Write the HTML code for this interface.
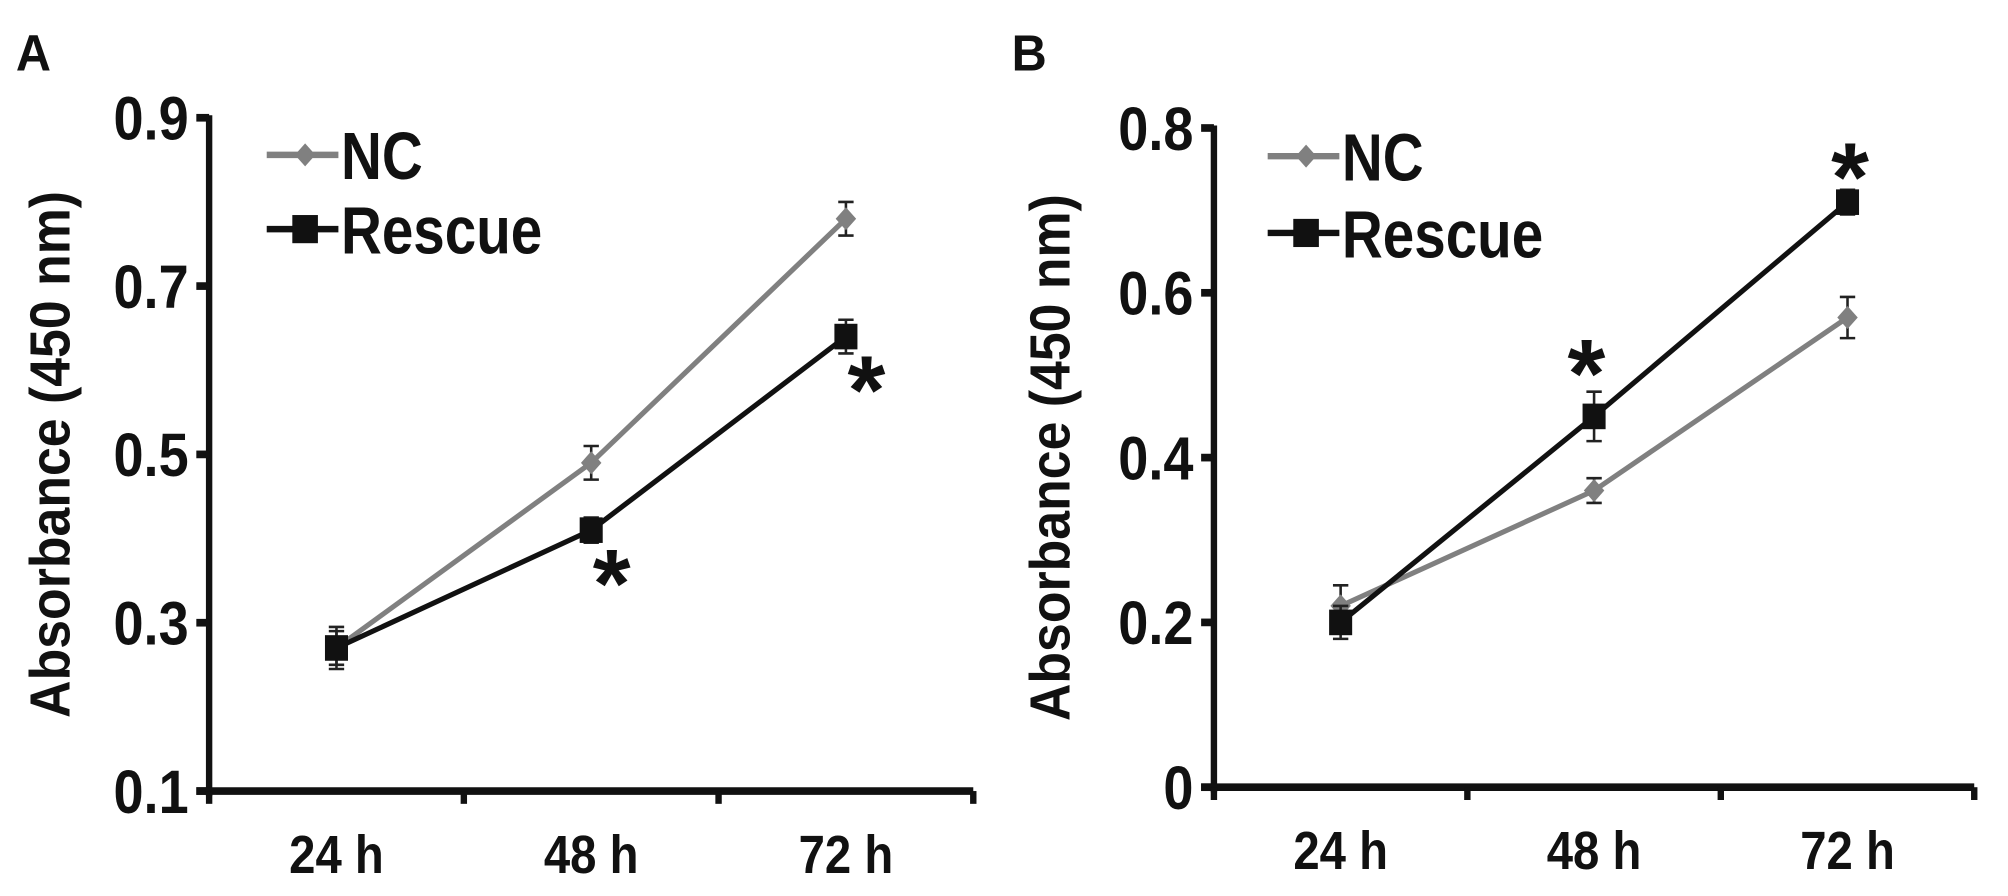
<!DOCTYPE html>
<html><head><meta charset="utf-8"><style>
html,body{margin:0;padding:0;background:#fff;}
svg{display:block;font-family:"Liberation Sans",Arial,sans-serif;font-weight:bold;}
</style></head><body>
<svg id="fig" width="2008" height="896" viewBox="0 0 1568 700" xmlns="http://www.w3.org/2000/svg"></svg>
<script>
const categories = ["24 h", "48 h", "72 h"];
const aTicks = [0.1, 0.3, 0.5, 0.7, 0.9];
const aNC = [0.27, 0.49, 0.78];
const aNCerr = [0.025, 0.02, 0.02];
const aRescue = [0.27, 0.41, 0.64];
const aRescueErr = [0.02, 0.015, 0.02];
const aStars = [false, true, true];
const bTicks = [0, 0.2, 0.4, 0.6, 0.8];
const bNC = [0.22, 0.36, 0.57];
const bNCerr = [0.025, 0.015, 0.025];
const bRescue = [0.20, 0.45, 0.71];
const bRescueErr = [0.02, 0.03, 0.015];
const bStars = [false, true, true];

const NS = "http://www.w3.org/2000/svg";
const svg = document.getElementById("fig");
function mk(tag, attrs, parent, text) {
  const e = document.createElementNS(NS, tag);
  for (const k in attrs) e.setAttribute(k, attrs[k]);
  if (text !== undefined) e.textContent = text;
  (parent || svg).appendChild(e);
  return e;
}
function ctext(x, y, size, anchor, sx, parent, str, rot) {
  const tr = `translate(${x},${y})` + (rot ? ` rotate(${rot})` : "") + ` scale(${sx},1)`;
  return mk("text", {x: 0, y: 0, "font-size": size, "text-anchor": anchor, fill: "#111", transform: tr}, parent, str);
}

function panel(cfg) {
  const g = mk("g", {});
  
  
  const ticks = cfg.ticks;
  const ymin = ticks[0], ymax = ticks[ticks.length - 1];
  const y = v => cfg.bottom - (v - ymin) / (ymax - ymin) * (cfg.bottom - cfg.top);
  const catW = (cfg.right - cfg.left) / categories.length;
  const x = i => cfg.left + catW * (i + 0.5);

  const lt = ctext(cfg.letterX, 55, 40, "start", 0.95, g, cfg.letter);
  
  

  const ya = mk("line", {x1: cfg.left, y1: cfg.top - 2, x2: cfg.left, y2: cfg.bottom + 4, stroke: "#111", "stroke-width": 5}, g);
  
  
  ticks.forEach(t => {
    const tk = mk("line", {x1: cfg.left - 10, y1: y(t), x2: cfg.left, y2: y(t), stroke: "#111", "stroke-width": 6}, g);
    
    
    const tl = ctext(cfg.left - 16, y(t) + 17, 48, "end", 0.88, g, String(t));
    
    
  });
  const xa = mk("line", {x1: cfg.left - 10, y1: cfg.bottom, x2: cfg.right, y2: cfg.bottom, stroke: "#111", "stroke-width": 6}, g);
  
  
  for (let i = 0; i <= categories.length; i++) {
    const xt = mk("line", {x1: cfg.left + catW * i, y1: cfg.bottom, x2: cfg.left + catW * i, y2: cfg.bottom + 10, stroke: "#111", "stroke-width": 5}, g);
    
    
  }
  categories.forEach((c, i) => {
    const cl = ctext(x(i), cfg.bottom + 64, 42, "middle", 0.88, g, c);
    
    
  });
  const yt = ctext(cfg.titleX, (cfg.top + cfg.bottom) / 2, 44, "middle", 0.92, g, "Absorbance (450 nm)", -90);
  
  

  function series(vals, errs, color, marker, name) {
    const sg = mk("g", {}, g);
    
    
    const pl = mk("polyline", {points: vals.map((v, i) => x(i) + "," + y(v)).join(" "), fill: "none", stroke: color, "stroke-width": 4}, sg);
    
    
    vals.forEach((v, i) => {
      const e1 = y(v + errs[i]), e2 = y(v - errs[i]);
      const eb = mk("path", {d: `M${x(i)},${e1}V${e2}M${x(i) - 6},${e1}H${x(i) + 6}M${x(i) - 6},${e2}H${x(i) + 6}`, stroke: "#222", "stroke-width": 2, fill: "none"}, sg);
      
      
      let m;
      if (marker === "sq") m = mk("rect", {x: x(i) - 9, y: y(v) - 10, width: 18, height: 20, fill: "#111"}, sg);
      else m = mk("path", {d: `M${x(i)},${y(v) - 9}L${x(i) + 8},${y(v)}L${x(i)},${y(v) + 9}L${x(i) - 8},${y(v)}Z`, fill: color}, sg);
      
      
    });
  }
  series(cfg.nc, cfg.ncErr, "#808080", "dia", "nc");
  series(cfg.rescue, cfg.rescueErr, "#111", "sq", "rescue");

  cfg.stars.forEach((s, i) => {
    if (!s) return;
    let sy, sx;
    if (cfg.starAbove) {
      sy = y(cfg.rescue[i] + cfg.rescueErr[i]) + (i === 2 ? 16 : 12);
      sx = x(i) - (i === 2 ? -2 : 6);
    } else {
      sy = y(cfg.rescue[i]) + 68;
      sx = x(i) + 16;
    }
    const st = mk("text", {x: sx, y: sy, "font-size": 76, "text-anchor": "middle", fill: "#111"}, g, "*");
    
    
  });

  const lg = mk("g", {}, g);
  
  
  const lx = cfg.legX;
  const e1 = mk("g", {}, lg);
  
  
  mk("line", {x1: lx, y1: cfg.legY1, x2: lx + 56, y2: cfg.legY1, stroke: "#808080", "stroke-width": 5}, e1);
  mk("path", {d: `M${lx + 30},${cfg.legY1 - 9}l8,9l-8,9l-8,-9Z`, fill: "#808080"}, e1);
  ctext(lx + 58, cfg.legY1 + 19, 52, "start", 0.85, e1, "NC");
  const e2 = mk("g", {}, lg);
  
  
  mk("line", {x1: lx, y1: cfg.legY2, x2: lx + 56, y2: cfg.legY2, stroke: "#111", "stroke-width": 5}, e2);
  mk("rect", {x: lx + 20, y: cfg.legY2 - 11, width: 20, height: 22, fill: "#111"}, e2);
  ctext(lx + 58, cfg.legY2 + 19, 52, "start", 0.85, e2, "Rescue");
}

panel({letter: "A", letterX: 12, left: 163, right: 760, top: 92, bottom: 618, titleX: 54, ticks: aTicks,
  nc: aNC, ncErr: aNCerr, rescue: aRescue, rescueErr: aRescueErr, stars: aStars, starAbove: false,
  legX: 208, legY1: 121, legY2: 179});
panel({letter: "B", letterX: 790, left: 948, right: 1542, top: 100, bottom: 615, titleX: 835, ticks: bTicks,
  nc: bNC, ncErr: bNCerr, rescue: bRescue, rescueErr: bRescueErr, stars: bStars, starAbove: true,
  legX: 990, legY1: 122, legY2: 182});
</script>
</body></html>
